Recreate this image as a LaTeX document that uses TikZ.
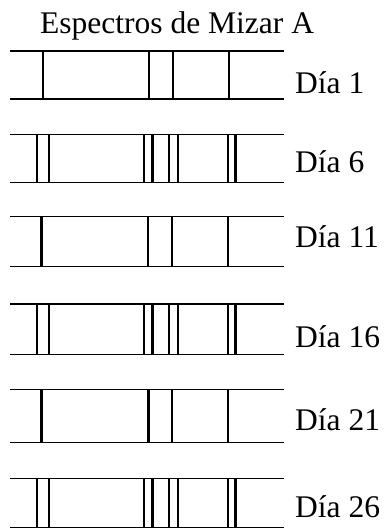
\documentclass[tikz,border=0pt]{standalone}
\usepackage{fontspec}
\setmainfont{Liberation Serif}
\begin{document}
\begin{tikzpicture}[x=1pt,y=-1pt,
  rail/.style={line width=1.5pt},
  band/.style={line width=2.4pt},
  lbl/.style={anchor=base west,inner sep=0pt,font=\fontsize{31.5}{36}\selectfont}]
\useasboundingbox (0,0) rectangle (384,528);
\node[lbl] (title) at (40,33) {Espectros de Mizar A};
% singles
\foreach \t/\b/\xa/\xb/\xc/\xd in {51/99/43/149/173/229, 216.3/266.3/41.3/148/171.7/228, 389.7/442.7/41.3/148.3/171.7/228}{
  \draw[rail] (10,\t) -- (284,\t);
  \draw[rail] (10,\b) -- (284,\b);
  \foreach \x in {\xa,\xb,\xc,\xd} \draw[band] (\x,\t) -- (\x,\b);
}
% doubles
\foreach \t/\b in {134.7/182.7, 304/354.3, 478.3/527.3}{
  \draw[rail] (10,\t) -- (284,\t);
  \draw[rail] (10,\b) -- (284,\b);
  \foreach \x in {37,49,143.7,152.3,169,177.7,228,235.3} \draw[band] (\x,\t) -- (\x,\b);
}
\node[lbl] (d1) at (295,93) {Día 1};
\node[lbl] (d6) at (295,172) {Día 6};
\node[lbl] (d11) at (295,247) {Día 11};
\node[lbl] (d16) at (295,347) {Día 16};
\node[lbl] (d21) at (295,430) {Día 21};
\node[lbl] (d26) at (295,517) {Día 26};
\end{tikzpicture}
\end{document}
